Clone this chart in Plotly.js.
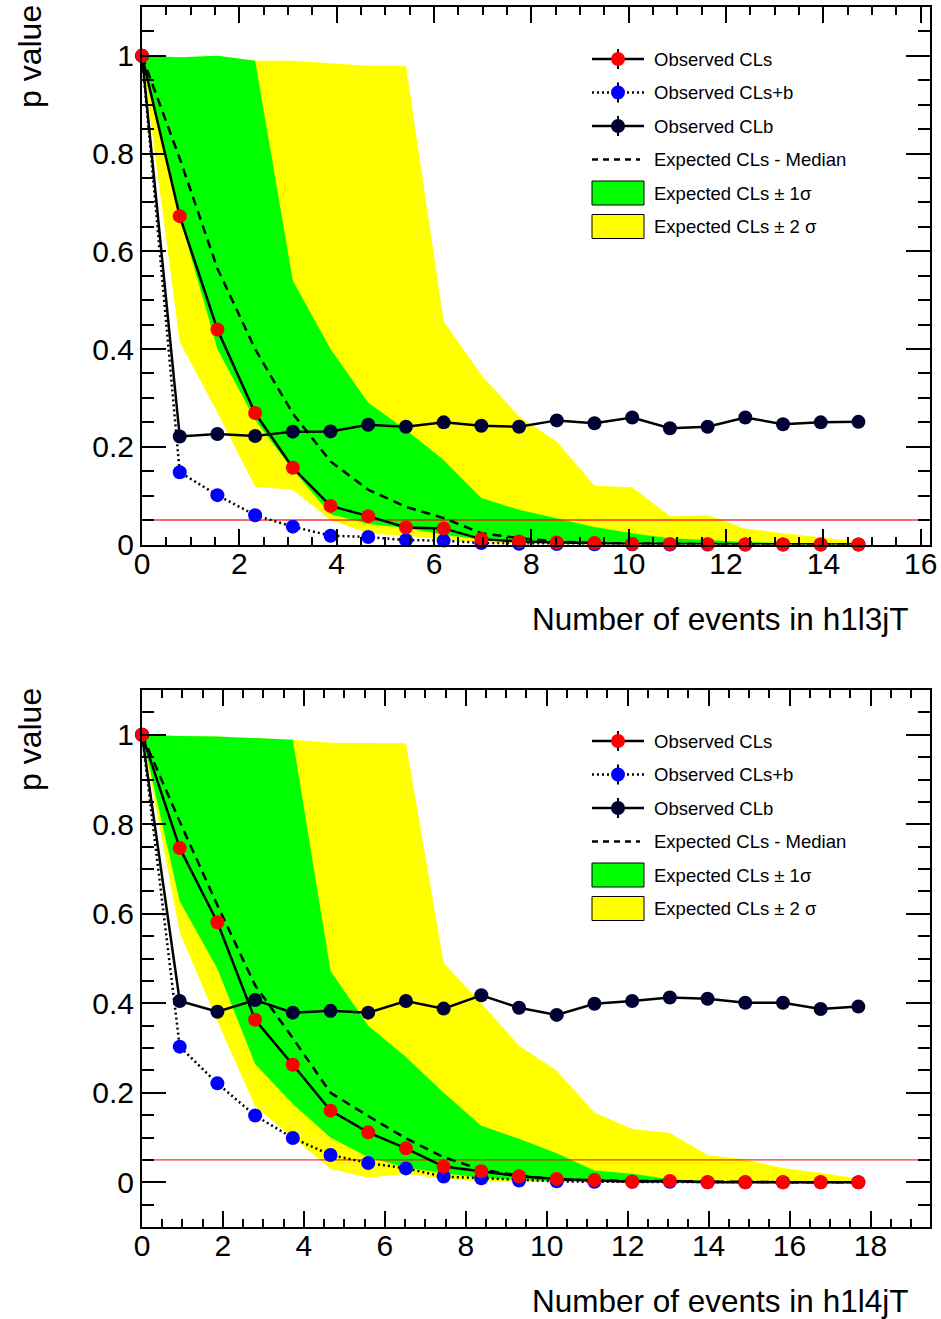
<!DOCTYPE html>
<html>
<head>
<meta charset="utf-8">
<script src="https://cdn.plot.ly/plotly-3.0.1.min.js"></script>
<style>html,body{margin:0;padding:0;background:#fff;}#chart{width:941px;height:1319px;}</style>
</head>
<body>
<div id="chart"></div>
<script>
// ---------------- DATA : top panel (h1l3jT) ----------------
const topX = [0, 0.775, 1.549, 2.324, 3.099, 3.874, 4.648, 5.423, 6.198, 6.972, 7.747, 8.522, 9.297, 10.071, 10.846, 11.621, 12.395, 13.17, 13.945, 14.72];
const topCLs = [1.0, 0.672, 0.440, 0.269, 0.157, 0.079, 0.058, 0.035, 0.033, 0.011, 0.006, 0.004, 0.003, 0.001, 0.001, 0.0005, 0, 0, 0, 0];
const topCLsb = [1.0, 0.148, 0.101, 0.060, 0.0365, 0.018, 0.0154, 0.009, 0.008, 0.003, 0.0015, 0.001, 0.0005, 0.0003, 0, 0, 0, 0, 0, 0];
const topCLb = [1.0, 0.221, 0.226, 0.222, 0.231, 0.2315, 0.245, 0.241, 0.250, 0.243, 0.241, 0.254, 0.248, 0.260, 0.238, 0.241, 0.260, 0.246, 0.250, 0.251];
const topMedian = [1.0, 0.79, 0.565, 0.40, 0.268, 0.17, 0.112, 0.077, 0.054, 0.023, 0.013, 0.006, 0.003, 0.002, 0.001, 0.001, 0, 0, 0, 0];
const topGreenUp = [1.0, 0.997, 1.0, 0.99, 0.54, 0.40, 0.29, 0.235, 0.173, 0.095, 0.071, 0.054, 0.036, 0.023, 0.013, 0.009, 0.005, 0.003, 0.002, 0.001];
const topGreenLo = [1.0, 0.67, 0.40, 0.255, 0.153, 0.062, 0.042, 0.034, 0.020, 0.010, 0.006, 0.004, 0.002, 0.001, 0.001, 0, 0, 0, 0, 0];
const topYellowUp = [1.0, 0.996, 1.0, 0.99, 0.99, 0.985, 0.98, 0.98, 0.457, 0.347, 0.262, 0.211, 0.12, 0.117, 0.058, 0.06, 0.033, 0.023, 0.015, 0.006];
const topYellowLo = [1.0, 0.415, 0.27, 0.118, 0.112, 0.05, 0.023, 0.018, 0.010, 0.004, 0.003, 0.001, 0.001, 0, 0, 0, 0, 0, 0, 0];
const topXRange = [0, 16.19];
const topYRange = [0, 1.1];
const topXTitle = 'Number of events in h1l3jT';

// ---------------- DATA : bottom panel (h1l4jT) ----------------
const botX = [0, 0.932, 1.863, 2.795, 3.726, 4.658, 5.589, 6.521, 7.453, 8.384, 9.316, 10.247, 11.179, 12.111, 13.042, 13.974, 14.905, 15.837, 16.768, 17.7];
const botCLs = [1.0, 0.747, 0.581, 0.363, 0.2625, 0.160, 0.1115, 0.0758, 0.035, 0.0246, 0.0135, 0.0075, 0.005, 0.001, 0.003, 0, 0, 0, 0, 0];
const botCLsb = [1.0, 0.303, 0.221, 0.149, 0.099, 0.061, 0.043, 0.031, 0.0127, 0.009, 0.004, 0.002, 0.001, 0.001, 0.001, 0, 0, 0, 0, 0];
const botCLb = [1.0, 0.405, 0.381, 0.407, 0.379, 0.383, 0.379, 0.405, 0.388, 0.418, 0.390, 0.374, 0.399, 0.405, 0.413, 0.410, 0.401, 0.401, 0.387, 0.3925];
const botMedian = [1.0, 0.806, 0.619, 0.44, 0.322, 0.20, 0.148, 0.098, 0.056, 0.028, 0.015, 0.006, 0.004, 0.003, 0.002, 0.001, 0.001, 0, 0, 0];
const botGreenUp = [1.0, 0.997, 0.996, 0.993, 0.989, 0.472, 0.35, 0.28, 0.20, 0.126, 0.097, 0.065, 0.026, 0.019, 0.0065, 0.003, 0.002, 0.001, 0.001, 0.001];
const botGreenLo = [1.0, 0.628, 0.477, 0.264, 0.175, 0.10, 0.056, 0.033, 0.02, 0.01, 0.005, 0.003, 0.001, 0.001, 0, 0, 0, 0, 0, 0];
const botYellowUp = [1.0, 0.997, 0.996, 0.993, 0.989, 0.982, 0.981, 0.981, 0.49, 0.40, 0.305, 0.249, 0.156, 0.119, 0.110, 0.061, 0.051, 0.032, 0.021, 0.0076];
const botYellowLo = [1.0, 0.558, 0.36, 0.17, 0.10, 0.030, 0.010, 0.019, 0.008, 0.002, 0.001, 0, 0, 0, 0, 0, 0, 0, 0, 0];
const botXRange = [0, 19.47];
const botYRange = [-0.1, 1.1];
const botXTitle = 'Number of events in h1l4jT';

const CL_THRESHOLD = 0.05;
const yTitle = 'p value';
const legendLabels = ['Observed CLs', 'Observed CLs+b', 'Observed CLb', 'Expected CLs - Median', 'Expected CLs \u00B1 1\u03C3', 'Expected CLs \u00B1 2 \u03C3'];

// ---------------- STYLE ----------------
const FONT = 'Liberation Sans, Arial, Helvetica, sans-serif';
const W = 941, H = 1319;
const ML = 142, MR = 11, MT = 7, MB = 92;
const PW = W - ML - MR, PH = H - MT - MB;
const px = x => (x - ML) / PW;
const py = y => (H - MB - y) / PH;

const C_YELLOW = '#ffff00', C_GREEN = '#00ff00', C_RED = '#ff0000', C_BLUE = '#0000ff', C_NAVY = '#000033';
const MS = 14;
const LW = 2.5;

function panelTraces(xs, cls, clsb, clb, med, gU, gL, yU, yL, xRange, xa, ya) {
  const rev = a => a.slice().reverse();
  const base = {xaxis: xa, yaxis: ya, hoverinfo: 'skip', showlegend: false};
  return [
    Object.assign({}, base, {x: xs.concat(rev(xs)), y: yU.concat(rev(yL)), mode: 'lines', fill: 'toself', fillcolor: C_YELLOW, line: {width: 0, color: C_YELLOW}}),
    Object.assign({}, base, {x: xs.concat(rev(xs)), y: gU.concat(rev(gL)), mode: 'lines', fill: 'toself', fillcolor: C_GREEN, line: {width: 0, color: C_GREEN}}),
    Object.assign({}, base, {x: [xRange[0], xRange[1]], y: [CL_THRESHOLD, CL_THRESHOLD], mode: 'lines', line: {color: 'rgba(255,0,0,0.8)', width: 1.4}}),
    Object.assign({}, base, {x: xs, y: med, mode: 'lines', line: {color: 'black', width: LW, dash: '9px,6px'}}),
    Object.assign({}, base, {x: xs, y: clsb, mode: 'lines+markers', cliponaxis: false, line: {color: 'black', width: LW, dash: '2px,3px'}, marker: {color: C_BLUE, size: MS}}),
    Object.assign({}, base, {x: xs, y: clb, mode: 'lines+markers', cliponaxis: false, line: {color: 'black', width: LW}, marker: {color: C_NAVY, size: MS}}),
    Object.assign({}, base, {x: xs, y: cls, mode: 'lines+markers', cliponaxis: false, line: {color: 'black', width: LW}, marker: {color: C_RED, size: MS}})
  ];
}

const data = [].concat(
  panelTraces(topX, topCLs, topCLsb, topCLb, topMedian, topGreenUp, topGreenLo, topYellowUp, topYellowLo, topXRange, 'x', 'y'),
  panelTraces(botX, botCLs, botCLsb, botCLb, botMedian, botGreenUp, botGreenLo, botYellowUp, botYellowLo, botXRange, 'x2', 'y2')
);

function xAxis(range, anchor) {
  return {
    range: range, anchor: anchor, domain: [0, 1],
    tickmode: 'linear', tick0: 0, dtick: 2,
    ticks: 'inside', ticklen: 16, tickwidth: 2, tickcolor: 'black',
    ticklabelstandoff: -9,
    minor: {ticks: 'inside', ticklen: 8, tickwidth: 2, tickcolor: 'black', dtick: 0.5, tick0: 0, showgrid: false},
    showline: true, linewidth: 2, linecolor: 'black', mirror: 'ticks',
    showgrid: false, zeroline: false,
    tickfont: {family: FONT, size: 30, color: 'black'}
  };
}
function yAxis(range, anchor, domain) {
  return {
    range: range, anchor: anchor, domain: domain,
    tickmode: 'linear', tick0: 0, dtick: 0.2,
    ticks: 'inside', ticklen: 24, tickwidth: 2, tickcolor: 'black',
    minor: {ticks: 'inside', ticklen: 12, tickwidth: 2, tickcolor: 'black', dtick: 0.05, tick0: 0, showgrid: false},
    showline: true, linewidth: 2, linecolor: 'black', mirror: 'ticks',
    showgrid: false, zeroline: false,
    tickfont: {family: FONT, size: 30, color: 'black'}
  };
}

// legend built from shapes + annotations
const shapes = [];
const annotations = [];
function buildLegend(offset) {
  const rows = [59, 92.5, 126, 159.5, 193, 226.5].map(r => r + offset);
  const lx0 = 592, lx1 = 644, mx = 618, r = 7;
  const line = (x0, x1, y, dash) => shapes.push({type: 'line', xref: 'paper', yref: 'paper', x0: px(x0), x1: px(x1), y0: py(y), y1: py(y), line: {color: 'black', width: 2.5, dash: dash || 'solid'}});
  const vtick = y => shapes.push({type: 'line', xref: 'paper', yref: 'paper', x0: px(mx), x1: px(mx), y0: py(y - 10), y1: py(y + 10), line: {color: 'black', width: 2}});
  const dot = (y, c) => shapes.push({type: 'circle', xref: 'paper', yref: 'paper', x0: px(mx - r), x1: px(mx + r), y0: py(y + r), y1: py(y - r), fillcolor: c, line: {width: 0}});
  const box = (y, c) => shapes.push({type: 'rect', xref: 'paper', yref: 'paper', x0: px(lx0), x1: px(lx1), y0: py(y + 12), y1: py(y - 12), fillcolor: c, line: {color: 'black', width: 1}});
  line(lx0, lx1, rows[0]); vtick(rows[0]); dot(rows[0], C_RED);
  line(lx0, lx1, rows[1], '2px,3px'); vtick(rows[1]); dot(rows[1], C_BLUE);
  line(lx0, lx1, rows[2]); vtick(rows[2]); dot(rows[2], C_NAVY);
  line(lx0, lx1 - 4, rows[3], '6px,5px');
  box(rows[4], C_GREEN);
  box(rows[5], C_YELLOW);
  rows.forEach((y, i) => annotations.push({
    xref: 'paper', yref: 'paper', x: px(652), y: py(y), xanchor: 'left', yanchor: 'middle',
    text: legendLabels[i], showarrow: false, font: {family: FONT, size: 18.5, color: 'black'}
  }));
}
buildLegend(0);
buildLegend(682);

// axis titles
[[topXTitle, 619], [botXTitle, 1301]].forEach(([t, y]) => annotations.push({
  xref: 'paper', yref: 'paper', x: px(910), y: py(y), xanchor: 'right', yanchor: 'middle',
  text: t, showarrow: false, font: {family: FONT, size: 31.5, color: 'black'}
}));
[56, 739].forEach(y => annotations.push({
  xref: 'paper', yref: 'paper', x: px(30), y: py(y), xanchor: 'center', yanchor: 'middle',
  text: yTitle, textangle: -90, showarrow: false, font: {family: FONT, size: 32, color: 'black'}
}));

const layout = {
  width: W, height: H,
  margin: {l: ML, r: MR, t: MT, b: MB, pad: 0},
  paper_bgcolor: 'white', plot_bgcolor: 'white',
  showlegend: false,
  xaxis: xAxis(topXRange, 'y'),
  yaxis: yAxis(topYRange, 'x', [py(544.5), 1]),
  xaxis2: xAxis(botXRange, 'y2'),
  yaxis2: yAxis(botYRange, 'x2', [0, py(690)]),
  shapes: shapes,
  annotations: annotations,
  font: {family: FONT}
};

Plotly.newPlot('chart', data, layout, {staticPlot: true, displayModeBar: false});
</script>
</body>
</html>
